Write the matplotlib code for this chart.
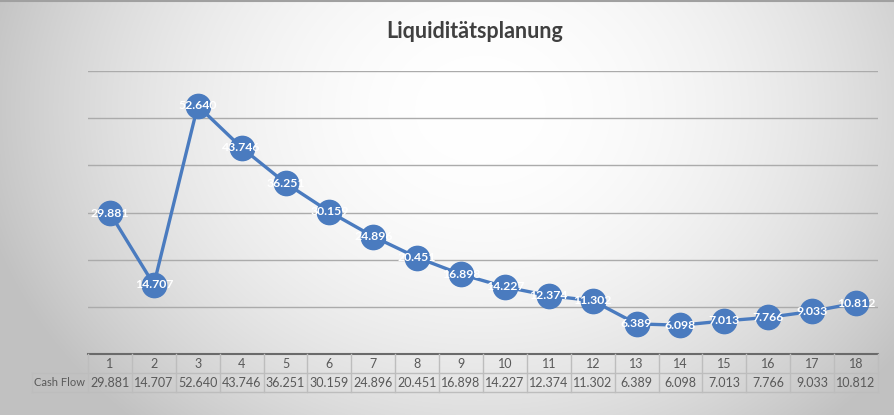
import numpy as np
import matplotlib
matplotlib.use("Agg")
import matplotlib.pyplot as plt

plt.rcParams["font.family"] = ["Lato", "DejaVu Sans"]

# Daten
perioden = list(range(1, 19))
cash_flow = [29881, 14707, 52640, 43746, 36251, 30159, 24896, 20451, 16898,
             14227, 12374, 11302, 6389, 6098, 7013, 7766, 9033, 10812]
zeilen_label = "Cash Flow"
titel = "Liquiditätsplanung"


def fmt(v):
    return f"{v:,}".replace(",", ".")


fig = plt.figure(figsize=(8.94, 4.15), dpi=100)

# Hintergrund: radialer Verlauf hell -> grau
bg = fig.add_axes([0, 0, 1, 1], zorder=-10)
yy, xx = np.mgrid[0:415, 0:894]
d2 = ((xx - 480) / 520.0) ** 2 + ((yy - 110) / 430.0) ** 2
g = np.clip(1.0 - 0.25 * d2, 0.76, 1.0)
bg.imshow(np.dstack([g, g, g]), aspect="auto", extent=[0, 1, 0, 1])
bg.axhline(0.997, color="#a0a0a0", lw=1.5)
bg.set_axis_off()

ax = fig.add_axes([88 / 894, 1 - 354 / 415, 790 / 894, 283 / 415])
ax.set_facecolor("none")
ax.set_xlim(0.5, 18.5)
ax.set_ylim(0, 60000)
ax.set_yticks(np.arange(10000, 60001, 10000))
ax.grid(axis="y", color="#ababab", lw=1)
ax.tick_params(left=False, bottom=False, labelleft=False, labelbottom=False)
for s in ax.spines.values():
    s.set_visible(False)

blau = "#4a7bbf"
ax.plot(perioden, cash_flow, color=blau, lw=2.4, marker="o", ms=17.5,
        mfc=blau, mec=blau, zorder=3, clip_on=False)
for x, v in zip(perioden, cash_flow):
    ax.text(x, v, fmt(v), ha="center", va="center", color="white",
            fontsize=8.8, fontweight="bold", zorder=4)

fig.text(475 / 894, 1 - 31 / 415, titel, ha="center", va="center",
         fontsize=15.5, fontweight="bold", color="#404040")

# Datentabelle unter der Achse
tr = ax.get_xaxis_transform()
h = 19 / 283.0
y0, y1, y2 = 0.0, -h, -2 * h
x_links = 0.5 - 56 / 790 * 18
linie = "#bdbdbd"
text_farbe = "#595959"
ax.plot([0.5, 18.5], [y0, y0], transform=tr, color="#6a6a6a", lw=1.5, clip_on=False)
for yv in (y1, y2):
    ax.plot([x_links, 18.5], [yv, yv], transform=tr, color=linie, lw=1, clip_on=False)
ax.plot([x_links] * 2, [y1, y2], transform=tr, color=linie, lw=1, clip_on=False)
for k in range(19):
    xv = 0.5 + k
    ax.plot([xv, xv], [y0, y2], transform=tr, color=linie, lw=1, clip_on=False)
for x, v in zip(perioden, cash_flow):
    ax.text(x, (y0 + y1) / 2, str(x), transform=tr, ha="center", va="center",
            fontsize=9, color=text_farbe, clip_on=False)
    ax.text(x, (y1 + y2) / 2, fmt(v), transform=tr, ha="center", va="center",
            fontsize=9, color=text_farbe, clip_on=False)
ax.text((x_links + 0.5) / 2, (y1 + y2) / 2, zeilen_label, transform=tr,
        ha="center", va="center", fontsize=8, color=text_farbe, clip_on=False)

fig.savefig("out.png", dpi=100)
